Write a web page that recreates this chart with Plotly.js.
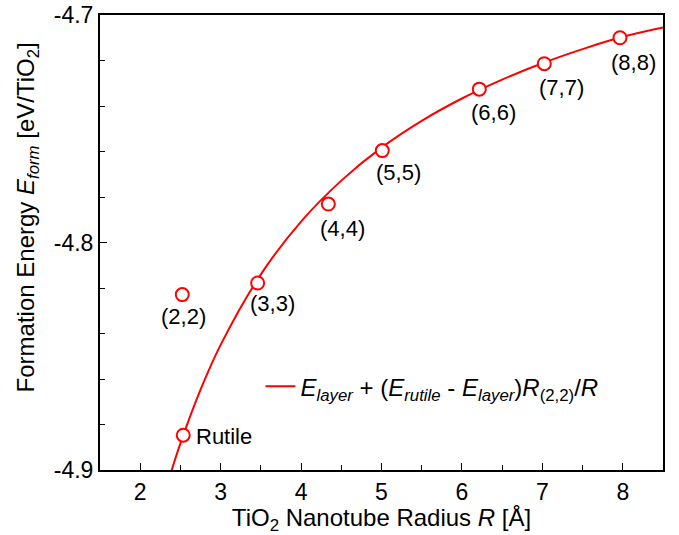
<!DOCTYPE html>
<html>
<head>
<meta charset="utf-8">
<script src="https://cdn.plot.ly/plotly-3.0.1.min.js"></script>
<style>html,body{margin:0;padding:0;background:#fff;}#chart{width:679px;height:535px;}</style>
</head>
<body>
<div id="chart"></div>
<script>
// Data points
const pointLabels = ["Rutile", "(2,2)", "(3,3)", "(4,4)", "(5,5)", "(6,6)", "(7,7)", "(8,8)"];
const pointR = [2.535, 2.523, 3.46, 4.339, 5.01, 6.216, 7.024, 7.965];
const pointE = [-4.8847, -4.8229, -4.8178, -4.7831, -4.7596, -4.7326, -4.7214, -4.7100];

// Fitted curve, values
const curveR = [2.39, 2.5, 2.75, 3.0, 3.5, 4.0, 4.5, 5.0, 5.5, 6.0, 6.5, 7.0, 7.5, 8.0, 8.5];
const curveE = [-4.9002, -4.8883, -4.8647, -4.8450, -4.8140, -4.7908, -4.7728, -4.7583, -4.7465, -4.7367, -4.7284, -4.7212, -4.7150, -4.7096, -4.7055];

const xTicks = [2, 3, 4, 5, 6, 7, 8];
const yTicks = [-4.9, -4.8, -4.7];

const red = "#ff0000";
const font = "Liberation Sans, Arial, sans-serif";

const traces = [
  {
    x: curveR, y: curveE, type: "scatter", mode: "lines",
    line: {color: red, width: 2, shape: "spline", smoothing: 1.0},
    name: "<i>E</i><sub><i>layer</i></sub> + (<i>E</i><sub><i>rutile</i></sub> - <i>E</i><sub><i>layer</i></sub>)<i>R</i><sub>(2,2)</sub>/<i>R</i>",
    showlegend: true, hoverinfo: "skip"
  },
  {
    x: pointR, y: pointE, type: "scatter", mode: "markers",
    marker: {symbol: "circle", size: 13, color: "#ffffff", line: {color: red, width: 2}},
    showlegend: false, cliponaxis: false
  }
];

// label offsets (pixels) relative to each point
const offs = [[41, 1], [1, 22], [15, 21], [14, 24], [16, 22], [14, 23], [17, 24], [14, 25]];
const annotations = pointLabels.map((t, i) => ({
  x: pointR[i], y: pointE[i], xref: "x", yref: "y", text: t,
  showarrow: false, xshift: offs[i][0], yshift: -offs[i][1],
  font: {family: font, size: 22, color: "#000"}
}));

annotations.push({
  xref: "paper", yref: "paper", x: -0.128, y: 0.555,
  xanchor: "center", yanchor: "middle", textangle: -90, showarrow: false,
  text: "Formation Energy <i>E</i><sub><i>form</i></sub> [eV/TiO<sub>2</sub>]",
  font: {family: font, size: 24, color: "#000"}
});

const layout = {
  width: 679, height: 535,
  margin: {l: 100, r: 16, t: 15, b: 64.5},
  paper_bgcolor: "#fff", plot_bgcolor: "#fff",
  font: {family: font, size: 22, color: "#000"},
  showlegend: true,
  legend: {x: 0.285, y: 0.183, xanchor: "left", yanchor: "middle", bgcolor: "rgba(0,0,0,0)",
           font: {family: font, size: 24, color: "#000"}, itemwidth: 30, tracegroupgap: 0},
  xaxis: {
    range: [1.5, 8.5], tickvals: xTicks, ticktext: xTicks.map(String),
    ticks: "inside", ticklen: 7, tickwidth: 1, tickcolor: "#000",
    minor: {dtick: 0.5, ticks: "inside", ticklen: 5, tickwidth: 1, tickcolor: "#000"},
    showline: true, linecolor: "#000", linewidth: 2, mirror: true,
    showgrid: false, zeroline: false,
    tickfont: {family: font, size: 23},
    title: {text: "TiO<sub>2</sub> Nanotube Radius <i>R</i> [Å]", font: {family: font, size: 24}, standoff: 4}
  },
  yaxis: {
    range: [-4.9, -4.7], tickvals: yTicks, ticktext: yTicks.map(v => v.toFixed(1)),
    ticks: "inside", ticklen: 7, tickwidth: 1, tickcolor: "#000",
    minor: {dtick: 0.02, ticks: "inside", ticklen: 5, tickwidth: 1, tickcolor: "#000"},
    showline: true, linecolor: "#000", linewidth: 2, mirror: true,
    showgrid: false, zeroline: false,
    tickfont: {family: font, size: 23}
  },
  annotations: annotations
};

Plotly.newPlot("chart", traces, layout, {displayModeBar: false, staticPlot: true});
</script>
</body>
</html>
